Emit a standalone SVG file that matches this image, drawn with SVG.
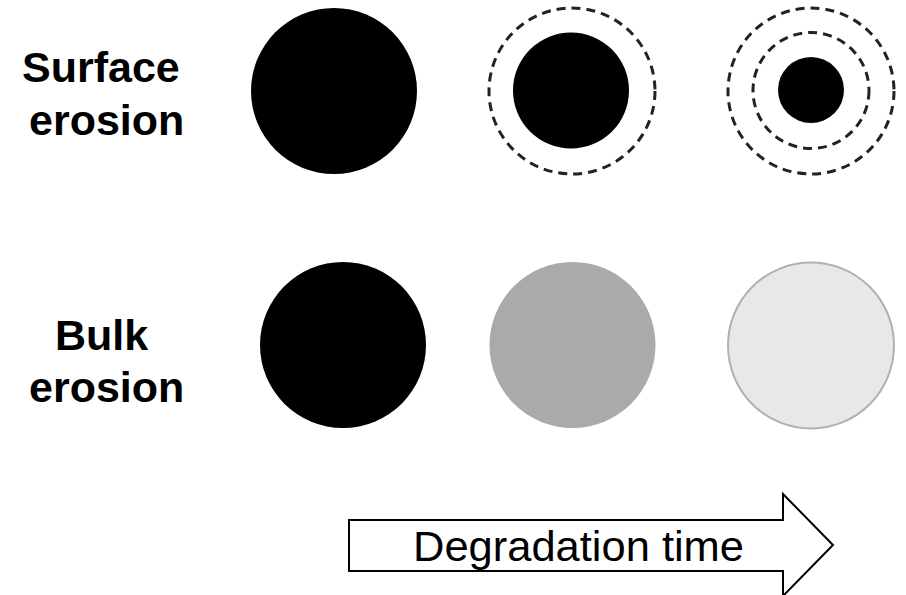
<svg xmlns="http://www.w3.org/2000/svg" width="906" height="595" viewBox="0 0 906 595">
  <style>
    .label { font-family: "Liberation Sans", Arial, sans-serif; font-weight: bold; font-size: 43px; fill: #000; }
    .arrow-text { font-family: "Liberation Sans", Arial, sans-serif; font-size: 42px; fill: #000; }
    .core { fill: #000; }
    .shell { fill: none; stroke: #222; stroke-width: 3; stroke-dasharray: 9 6; }
  </style>
  <rect width="906" height="595" fill="#fff"/>

  <!-- Row labels -->
  <g id="label-surface">
    <text class="label" x="22" y="82">Surface</text>
    <text class="label" x="29" y="135">erosion</text>
  </g>
  <g id="label-bulk">
    <text class="label" x="55" y="350">Bulk</text>
    <text class="label" x="29" y="402">erosion</text>
  </g>

  <!-- Surface erosion: core shrinks, former boundaries dashed -->
  <g id="surface-1">
    <circle class="core" cx="334" cy="91" r="83"/>
  </g>
  <g id="surface-2">
    <circle class="shell" cx="572" cy="91" r="83"/>
    <circle class="core" cx="571" cy="90.5" r="58"/>
  </g>
  <g id="surface-3">
    <circle class="shell" cx="811" cy="91" r="83"/>
    <circle class="shell" cx="811" cy="90.5" r="58"/>
    <circle class="core" cx="811" cy="90" r="33"/>
  </g>

  <!-- Bulk erosion: whole particle fades -->
  <g id="bulk-1">
    <circle class="core" cx="343" cy="345" r="83"/>
  </g>
  <g id="bulk-2">
    <circle cx="572.5" cy="345" r="83" fill="#aaaaaa"/>
  </g>
  <g id="bulk-3">
    <circle cx="811" cy="345.5" r="83" fill="#e8e8e8" stroke="#b0b0b0" stroke-width="2"/>
  </g>

  <!-- Time axis -->
  <g id="degradation-arrow">
    <path d="M349,520 L783,520 L783,494 L833,545 L783,596 L783,571 L349,571 Z" fill="#fff" stroke="#000" stroke-width="2"/>
    <text class="arrow-text" x="413" y="561" textLength="331" lengthAdjust="spacingAndGlyphs">Degradation time</text>
  </g>
</svg>
